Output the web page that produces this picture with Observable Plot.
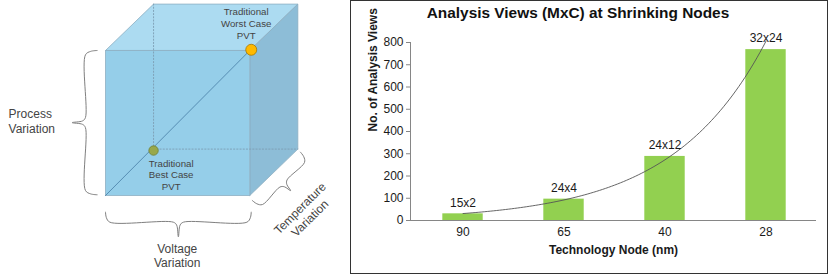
<!DOCTYPE html>
<html>
<head>
<meta charset="utf-8">
<script src="https://cdn.jsdelivr.net/npm/d3@7"></script>
<script src="https://cdn.jsdelivr.net/npm/@observablehq/plot@0.6"></script>
<style>
  body { margin: 0; background: #fff; }
  #root { position: relative; width: 830px; height: 275px; background: #fff; font-family: "Liberation Sans", Arial, sans-serif; overflow: hidden; }
  #cube { position: absolute; left: 0; top: 0; }
  #box { position: absolute; left: 350px; top: 0; width: 478px; height: 274px; border: 1px solid #333; box-sizing: border-box; }
  #title { position: absolute; left: 350px; top: 4px; width: 456px; text-align: center; font: bold 15.4px "Liberation Sans", Arial, sans-serif; color: #111; line-height: 18px; }
  #chart { position: absolute; left: 350px; top: 0; }
</style>
</head>
<body>
<div id="root">
  <div id="cube"></div>
  <div id="box"></div>
  <div id="title"></div>
  <div id="chart"></div>
</div>
<script>
// ---------- Bar chart data ----------
const chartTitle = "Analysis Views (MxC) at Shrinking Nodes";
const nodes = ["90", "65", "40", "28"];
const views = [30, 96, 288, 768];
const viewLabels = ["15x2", "24x4", "24x12", "32x24"];
const yTicks = [0, 100, 200, 300, 400, 500, 600, 700, 800];
const xTitle = "Technology Node (nm)";
const yTitle = "No. of Analysis Views";

// ---------- Cube diagram data (unit cube, front face 0..1) ----------
const depth = [0.333, 0.32];
const cubeFront = [[0, 0], [1, 0], [1, 1], [0, 1], [0, 0]];
const cubeTop = [[0, 1], [1, 1], [1 + depth[0], 1 + depth[1]], [depth[0], 1 + depth[1]], [0, 1]];
const cubeRight = [[1, 0], [1 + depth[0], depth[1]], [1 + depth[0], 1 + depth[1]], [1, 1], [1, 0]];
const hiddenEdges = [
  [[depth[0], depth[1]], [depth[0], 1 + depth[1]]],
  [[depth[0], depth[1]], [1 + depth[0], depth[1]]]
];
const diagonal = [[0, 0], [1, 1]];
const bestCase = [depth[0], depth[1] - 0.01];
const worstCase = [1.01, 1.005];
const cubeLabels = [
  {text: "Traditional\nWorst Case\nPVT", x: 0.975, y: 1.188, size: 9.7, lh: 1.22, anchor: "middle", rot: 0},
  {text: "Traditional\nBest Case\nPVT", x: 0.455, y: 0.145, size: 9.7, lh: 1.2, anchor: "middle", rot: 0},
  {text: "Process\nVariation", x: -0.672, y: 0.519, size: 12, lh: 1.27, anchor: "start", rot: 0},
  {text: "Voltage\nVariation", x: 0.497, y: -0.412, size: 12, lh: 1.17, anchor: "middle", rot: 0},
  {text: "Temperature\nVariation", x: 1.38, y: -0.121, size: 12, lh: 1.17, anchor: "middle", rot: -45}
];
// braces: start, end, outward normal, straight offset, tip offset
const braces = [
  {p0: [-0.058, 1.0], p1: [-0.058, 0.005], n: [-1, 0], o1: 0.081, o2: 0.173},
  {p0: [0, -0.115], p1: [1.01, -0.115], n: [0, -1], o1: 0.069, o2: 0.17},
  {p0: [1.017, -0.034], p1: [1.351, 0.299], n: [0.7071, -0.7071], o1: 0.07, o2: 0.14}
];

// ---------- Title ----------
document.getElementById("title").textContent = chartTitle;

// ---------- Bar chart ----------
const data = nodes.map((node, i) => ({i, node, v: views[i], label: viewLabels[i]}));

// Exponential trendline (least squares on ln y), like the spreadsheet trendline
const lx = data.map(d => d.i), ly = views.map(v => Math.log(v));
const mx = d3.mean(lx), my = d3.mean(ly);
const b = d3.sum(lx.map((x, k) => (x - mx) * (ly[k] - my))) / d3.sum(lx.map(x => (x - mx) ** 2));
const a = my - b * mx;
const trend = d3.range(0, 3.0001, 0.03).map(t => ({t, v: Math.exp(a + b * t)}));

const axisGray = "#868686";
const textDark = "#1a1a1a";
const xDomain = [-0.52, 3.5];

const chart = Plot.plot({
  width: 478,
  height: 274,
  marginLeft: 60,
  marginRight: 12,
  marginTop: 42,
  marginBottom: 54,
  style: {fontFamily: "'Liberation Sans', Arial, sans-serif", fontSize: "12px", color: textDark, background: "transparent", overflow: "visible"},
  x: {domain: xDomain, axis: null},
  y: {domain: [0, 800], axis: null},
  marks: [
    Plot.rectY(data, {x1: d => d.i - 0.2, x2: d => d.i + 0.2, y1: 0, y2: "v", fill: "#92d050"}),
    Plot.ruleY([0], {stroke: axisGray}),
    Plot.ruleX([xDomain[0]], {y1: 0, y2: 800, stroke: axisGray}),
    Plot.axisY({ticks: yTicks, tickSize: 4, tickPadding: 3, stroke: axisGray, fill: textDark, label: null, fontSize: 12}),
    Plot.line(trend, {x: "t", y: "v", stroke: "#555", strokeWidth: 0.9}),
    Plot.text(data, {x: "i", y: "v", text: "label", dy: -11, fill: textDark, fontSize: 12}),
    Plot.text(data, {x: "i", text: "node", frameAnchor: "bottom", dy: 15, fill: textDark, fontSize: 12}),
    Plot.text([xTitle], {text: d => d, frameAnchor: "bottom", dy: 33, fontWeight: "bold", fill: textDark, fontSize: 12}),
    Plot.text([yTitle], {text: d => d, frameAnchor: "left", dx: -37, rotate: -90, fontWeight: "bold", fill: textDark, fontSize: 12})
  ]
});
document.getElementById("chart").appendChild(chart);

// ---------- Cube diagram ----------
const pts = arr => arr.map(([x, y]) => ({x, y}));
function bracePoints(br) {
  const dx = br.p1[0] - br.p0[0], dy = br.p1[1] - br.p0[1];
  const L = Math.hypot(dx, dy), ux = dx / L, uy = dy / L;
  const o1 = br.o1, o2 = br.o2;
  const shape = [[0, 0], [0.006, o1 * 0.55], [0.03, o1], [L / 2 - 0.035, o1], [L / 2 - 0.012, o1 + 0.02], [L / 2, o2],
                 [L / 2 + 0.012, o1 + 0.02], [L / 2 + 0.035, o1], [L - 0.03, o1], [L - 0.006, o1 * 0.55], [L, 0]];
  return shape.map(([s, o]) => ({x: br.p0[0] + ux * s + br.n[0] * o, y: br.p0[1] + uy * s + br.n[1] * o}));
}
const edge = "#8eaec2";
const cube = Plot.plot({
  width: 340,
  height: 275,
  margin: 0,
  style: {fontFamily: "'Liberation Sans', Arial, sans-serif", background: "transparent", overflow: "visible"},
  x: {domain: [-0.7277, 1.6286], axis: null},
  y: {domain: [-0.5517, 1.3448], axis: null},
  marks: [
    Plot.line(pts(cubeTop), {x: "x", y: "y", fill: "#acdbf1", stroke: edge, strokeWidth: 0.8}),
    Plot.line(pts(cubeRight), {x: "x", y: "y", fill: "#8dbdd7", stroke: edge, strokeWidth: 0.8}),
    Plot.line(pts(cubeFront), {x: "x", y: "y", fill: "#95cee9", stroke: edge, strokeWidth: 0.8}),
    ...hiddenEdges.map(e => Plot.line(pts(e), {x: "x", y: "y", stroke: "#7d9db3", strokeWidth: 0.9, strokeDasharray: "1.2,2"})),
    Plot.line(pts(diagonal), {x: "x", y: "y", stroke: "#4f86ad", strokeWidth: 0.9}),
    Plot.dot([bestCase], {x: d => d[0], y: d => d[1], r: 4.7, fill: "#98a84a", stroke: "#6f7f35", strokeWidth: 0.8}),
    Plot.dot([worstCase], {x: d => d[0], y: d => d[1], r: 5.5, fill: "#ffb900", stroke: "#a77700", strokeWidth: 0.8}),
    ...braces.map(br => Plot.line(bracePoints(br), {x: "x", y: "y", stroke: "#7f7f7f", strokeWidth: 1, curve: "catmull-rom"})),
    ...cubeLabels.map(l => Plot.text([l], {x: "x", y: "y", text: "text", fontSize: l.size, lineHeight: l.lh, textAnchor: l.anchor, rotate: l.rot, fill: "#444"}))
  ]
});
document.getElementById("cube").appendChild(cube);
</script>
</body>
</html>
